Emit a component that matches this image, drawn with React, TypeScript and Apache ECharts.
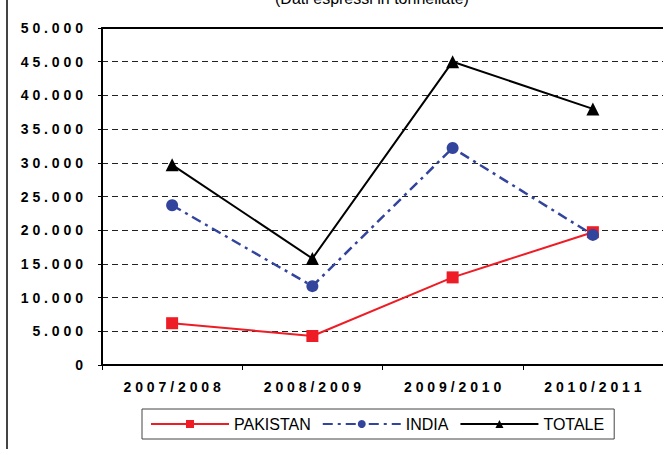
import React, { useEffect, useRef } from "react";
import * as echarts from "echarts";

const categories = ["2007/2008", "2008/2009", "2009/2010", "2010/2011"];
const pakistan = [6200, 4300, 13000, 19700];
const india = [23700, 11700, 32200, 19300];
const totale = [29700, 15800, 45000, 38000];
const yMin = 0;
const yMax = 50000;
const yStep = 5000;
const title = "(Dati espressi in tonnellate)";

const FONT = "Arial, 'Liberation Sans', sans-serif";

function spaced(s: string): string {
  return s.split("").join(" ");
}

function fmtThousands(v: number): string {
  const s = Math.round(v).toString();
  return s.replace(/\B(?=(\d{3})+(?!\d))/g, ".");
}

export default function App() {
  const ref = useRef<HTMLDivElement>(null);
  useEffect(() => {
    if (!ref.current) return;
    const chart = echarts.init(ref.current, null, { renderer: "svg" });
    chart.setOption({
      animation: false,
      backgroundColor: "#ffffff",
      grid: { left: 102, top: 28, right: -4, bottom: 84, containLabel: false },
      graphic: [
        {
          type: "text",
          left: 275,
          top: -10,
          style: { text: title, font: `16px ${FONT}`, fill: "#000" },
        },
        {
          type: "line",
          shape: { x1: 7, y1: 0, x2: 7, y2: 449 },
          style: { stroke: "#444", lineWidth: 2 },
        },
      ],
      legend: {
        left: 142,
        top: 409,
        padding: [7, 10, 7, 8],
        itemGap: 11,
        itemWidth: 78,
        itemHeight: 10,
        borderColor: "#444",
        borderWidth: 1,
        textStyle: { fontFamily: FONT, fontSize: 16, color: "#000" },
        data: ["PAKISTAN", "INDIA", "TOTALE"],
      },
      xAxis: [
        {
          type: "category",
          data: categories,
          boundaryGap: true,
          axisLine: { show: true, lineStyle: { color: "#000", width: 2 } },
          axisTick: { show: true, alignWithLabel: false, length: 5, lineStyle: { color: "#000", width: 1 } },
          axisLabel: {
            margin: 15,
            fontFamily: FONT,
            fontSize: 14,
            fontWeight: "bold",
            color: "#000",
            formatter: (v: string) => spaced(v),
          },
          splitLine: { show: false },
        },
        {
          type: "category",
          data: categories,
          position: "top",
          axisLine: { show: true, lineStyle: { color: "#000", width: 2 } },
          axisTick: { show: false },
          axisLabel: { show: false },
        },
      ],
      yAxis: {
        type: "value",
        min: yMin,
        max: yMax,
        interval: yStep,
        axisLine: { show: true, lineStyle: { color: "#000", width: 2 } },
        axisTick: { show: true, length: 4, lineStyle: { color: "#000", width: 1 } },
        axisLabel: {
          margin: 19,
          fontFamily: FONT,
          fontSize: 14,
          fontWeight: "bold",
          color: "#000",
          formatter: (v: number) => spaced(fmtThousands(v)),
        },
        splitLine: { show: true, lineStyle: { color: "#222", width: 1, type: [6, 4] } },
      },
      series: [
        {
          name: "PAKISTAN",
          type: "line",
          data: pakistan,
          symbol: "rect",
          symbolSize: 12,
          itemStyle: { color: "#ee1c25" },
          lineStyle: { color: "#ee1c25", width: 2 },
          z: 3,
        },
        {
          name: "INDIA",
          type: "line",
          data: india,
          symbol: "circle",
          symbolSize: 12,
          itemStyle: { color: "#33449c" },
          lineStyle: { color: "#33449c", width: 2.5, type: [10, 5, 3, 5] },
          z: 4,
        },
        {
          name: "TOTALE",
          type: "line",
          data: totale,
          symbol: "triangle",
          symbolSize: 13,
          itemStyle: { color: "#000" },
          lineStyle: { color: "#000", width: 2 },
          z: 5,
        },
      ],
    });
    return () => chart.dispose();
  }, []);
  return (
    <div
      ref={ref}
      style={{ position: "fixed", left: 0, top: 0, width: 663, height: 449, background: "#fff" }}
    />
  );
}
